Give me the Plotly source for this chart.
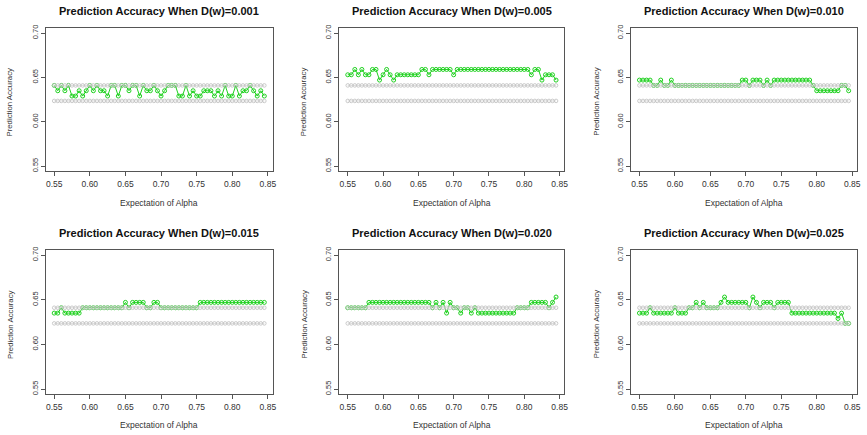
import plotly.graph_objects as go

# Expectation of Alpha (x values)
alpha = [0.550, 0.555, 0.560, 0.565, 0.570, 0.575, 0.580, 0.585, 0.590, 0.595,
         0.600, 0.605, 0.610, 0.615, 0.620, 0.625, 0.630, 0.635, 0.640, 0.645,
         0.650, 0.655, 0.660, 0.665, 0.670, 0.675, 0.680, 0.685, 0.690, 0.695,
         0.700, 0.705, 0.710, 0.715, 0.720, 0.725, 0.730, 0.735, 0.740, 0.745,
         0.750, 0.755, 0.760, 0.765, 0.770, 0.775, 0.780, 0.785, 0.790, 0.795,
         0.800, 0.805, 0.810, 0.815, 0.820, 0.825, 0.830, 0.835, 0.840, 0.845]

# Reference (grey) accuracy lines
ref_high = [0.641, 0.641, 0.641, 0.641, 0.641, 0.641, 0.641, 0.641, 0.641, 0.641,
            0.641, 0.641, 0.641, 0.641, 0.641, 0.641, 0.641, 0.641, 0.641, 0.641,
            0.641, 0.641, 0.641, 0.641, 0.641, 0.641, 0.641, 0.641, 0.641, 0.641,
            0.641, 0.641, 0.641, 0.641, 0.641, 0.641, 0.641, 0.641, 0.641, 0.641,
            0.641, 0.641, 0.641, 0.641, 0.641, 0.641, 0.641, 0.641, 0.641, 0.641,
            0.641, 0.641, 0.641, 0.641, 0.641, 0.641, 0.641, 0.641, 0.641, 0.641]
ref_low = [0.6235, 0.6235, 0.6235, 0.6235, 0.6235, 0.6235, 0.6235, 0.6235, 0.6235, 0.6235,
           0.6235, 0.6235, 0.6235, 0.6235, 0.6235, 0.6235, 0.6235, 0.6235, 0.6235, 0.6235,
           0.6235, 0.6235, 0.6235, 0.6235, 0.6235, 0.6235, 0.6235, 0.6235, 0.6235, 0.6235,
           0.6235, 0.6235, 0.6235, 0.6235, 0.6235, 0.6235, 0.6235, 0.6235, 0.6235, 0.6235,
           0.6235, 0.6235, 0.6235, 0.6235, 0.6235, 0.6235, 0.6235, 0.6235, 0.6235, 0.6235,
           0.6235, 0.6235, 0.6235, 0.6235, 0.6235, 0.6235, 0.6235, 0.6235, 0.6235, 0.6235]

acc_001 = [0.641, 0.635, 0.641, 0.635, 0.641, 0.629, 0.629, 0.635, 0.629, 0.635,
           0.641, 0.635, 0.641, 0.635, 0.635, 0.629, 0.641, 0.641, 0.629, 0.641,
           0.641, 0.635, 0.641, 0.641, 0.629, 0.641, 0.635, 0.635, 0.641, 0.635,
           0.629, 0.635, 0.641, 0.641, 0.641, 0.629, 0.629, 0.641, 0.629, 0.635,
           0.629, 0.629, 0.635, 0.635, 0.635, 0.629, 0.635, 0.629, 0.641, 0.629,
           0.629, 0.641, 0.629, 0.635, 0.635, 0.641, 0.635, 0.629, 0.635, 0.629]
acc_005 = [0.653, 0.653, 0.659, 0.653, 0.659, 0.653, 0.653, 0.659, 0.659, 0.647,
           0.653, 0.659, 0.653, 0.647, 0.653, 0.653, 0.653, 0.653, 0.653, 0.653,
           0.653, 0.659, 0.659, 0.653, 0.659, 0.659, 0.659, 0.659, 0.659, 0.659,
           0.653, 0.659, 0.659, 0.659, 0.659, 0.659, 0.659, 0.659, 0.659, 0.659,
           0.659, 0.659, 0.659, 0.659, 0.659, 0.659, 0.659, 0.659, 0.659, 0.659,
           0.659, 0.659, 0.653, 0.659, 0.659, 0.647, 0.653, 0.653, 0.653, 0.647]
acc_010 = [0.647, 0.647, 0.647, 0.647, 0.641, 0.641, 0.647, 0.641, 0.641, 0.647,
           0.641, 0.641, 0.641, 0.641, 0.641, 0.641, 0.641, 0.641, 0.641, 0.641,
           0.641, 0.641, 0.641, 0.641, 0.641, 0.641, 0.641, 0.641, 0.641, 0.647,
           0.647, 0.641, 0.647, 0.647, 0.647, 0.641, 0.647, 0.641, 0.647, 0.647,
           0.647, 0.647, 0.647, 0.647, 0.647, 0.647, 0.647, 0.647, 0.647, 0.641,
           0.635, 0.635, 0.635, 0.635, 0.635, 0.635, 0.635, 0.641, 0.641, 0.635]
acc_015 = [0.635, 0.635, 0.641, 0.635, 0.635, 0.635, 0.635, 0.635, 0.641, 0.641,
           0.641, 0.641, 0.641, 0.641, 0.641, 0.641, 0.641, 0.641, 0.641, 0.641,
           0.647, 0.641, 0.647, 0.647, 0.647, 0.647, 0.641, 0.641, 0.647, 0.647,
           0.641, 0.641, 0.641, 0.641, 0.641, 0.641, 0.641, 0.641, 0.641, 0.641,
           0.641, 0.647, 0.647, 0.647, 0.647, 0.647, 0.647, 0.647, 0.647, 0.647,
           0.647, 0.647, 0.647, 0.647, 0.647, 0.647, 0.647, 0.647, 0.647, 0.647]
acc_020 = [0.641, 0.641, 0.641, 0.641, 0.641, 0.641, 0.647, 0.647, 0.647, 0.647,
           0.647, 0.647, 0.647, 0.647, 0.647, 0.647, 0.647, 0.647, 0.647, 0.647,
           0.647, 0.647, 0.647, 0.647, 0.641, 0.647, 0.641, 0.647, 0.635, 0.647,
           0.641, 0.641, 0.635, 0.641, 0.641, 0.635, 0.641, 0.635, 0.635, 0.635,
           0.635, 0.635, 0.635, 0.635, 0.635, 0.635, 0.635, 0.635, 0.641, 0.641,
           0.641, 0.641, 0.647, 0.647, 0.647, 0.647, 0.647, 0.641, 0.647, 0.653]
acc_025 = [0.635, 0.635, 0.635, 0.641, 0.635, 0.635, 0.635, 0.635, 0.635, 0.635,
           0.641, 0.635, 0.635, 0.635, 0.641, 0.641, 0.647, 0.641, 0.647, 0.641,
           0.641, 0.641, 0.641, 0.647, 0.653, 0.647, 0.647, 0.647, 0.647, 0.647,
           0.647, 0.641, 0.653, 0.647, 0.641, 0.647, 0.647, 0.647, 0.641, 0.647,
           0.647, 0.647, 0.647, 0.635, 0.635, 0.635, 0.635, 0.635, 0.635, 0.635,
           0.635, 0.635, 0.635, 0.635, 0.635, 0.635, 0.629, 0.635, 0.6235, 0.6235]

panel_titles = ["Prediction Accuracy When D(w)=0.001",
                "Prediction Accuracy When D(w)=0.005",
                "Prediction Accuracy When D(w)=0.010",
                "Prediction Accuracy When D(w)=0.015",
                "Prediction Accuracy When D(w)=0.020",
                "Prediction Accuracy When D(w)=0.025"]
series = [acc_001, acc_005, acc_010, acc_015, acc_020, acc_025]

x_ticks = [0.55, 0.60, 0.65, 0.70, 0.75, 0.80, 0.85]
x_ticklabels = ["0.55", "0.60", "0.65", "0.70", "0.75", "0.80", "0.85"]
y_ticks = [0.55, 0.60, 0.65, 0.70]
y_ticklabels = ["0.55", "0.60", "0.65", "0.70"]

W, H = 867, 435
# plot frames in pixels: (left, right, top, bottom)
frames = [(46, 274, 25, 170), (341, 567, 25, 170), (634, 861, 25, 170),
          (46, 274, 249, 395), (341, 567, 249, 395), (634, 861, 249, 395)]
ytitle_x = [10, 305, 599]

GREEN = "#1fd11f"
GREY = "#c4c4c4"
FONT = "Liberation Sans, Arial, sans-serif"

fig = go.Figure()
layout = dict(
    width=W, height=H, margin=dict(l=0, r=0, t=0, b=0),
    paper_bgcolor="white", plot_bgcolor="white", showlegend=False,
    font=dict(family=FONT, color="#333333"),
)
annotations = []
for k, (ys, title) in enumerate(zip(series, panel_titles)):
    n = k + 1
    xa = "x" if n == 1 else f"x{n}"
    ya = "y" if n == 1 else f"y{n}"
    l, r, t, b = frames[k]
    fig.add_trace(go.Scatter(x=alpha, y=ys, mode="lines+markers", xaxis=xa, yaxis=ya,
                             line=dict(color=GREEN, width=1),
                             marker=dict(symbol="circle-open", size=4, color=GREEN,
                                         line=dict(width=1, color=GREEN))))
    for ref in (ref_high, ref_low):
        fig.add_trace(go.Scatter(x=alpha, y=ref, mode="lines+markers", xaxis=xa, yaxis=ya,
                                 line=dict(color=GREY, width=0.6),
                                 marker=dict(symbol="circle-open", size=3.6, color=GREY,
                                             line=dict(width=0.9, color=GREY))))
    axcommon = dict(showgrid=False, zeroline=False, showline=True, mirror=True,
                    linecolor="#555555", linewidth=1, ticks="outside", ticklen=4,
                    tickcolor="#555555", tickfont=dict(size=8.5, family=FONT, color="#333333"))
    layout["xaxis" if n == 1 else f"xaxis{n}"] = dict(
        axcommon, domain=[l / W, r / W], range=[0.5382, 0.8568],
        tickvals=x_ticks, ticktext=x_ticklabels, anchor=ya)
    layout["yaxis" if n == 1 else f"yaxis{n}"] = dict(
        axcommon, domain=[1 - b / H, 1 - t / H], range=[0.544, 0.706],
        tickvals=y_ticks, ticktext=y_ticklabels, tickangle=-90, anchor=xa,
        tickfont=dict(size=7.5, family=FONT, color="#333333"))
    cx = (l + r) / 2 / W
    row_top = t == 25
    annotations.append(dict(text=f"<b>{title}</b>", x=cx, y=1 - ((8.5 if row_top else 232) / H),
                            xref="paper", yref="paper", showarrow=False,
                            xanchor="center", yanchor="middle",
                            font=dict(size=11, family=FONT, color="#111111")))
    annotations.append(dict(text="Expectation of Alpha", x=cx, y=1 - ((202 if row_top else 426) / H),
                            xref="paper", yref="paper", showarrow=False,
                            xanchor="center", yanchor="middle",
                            font=dict(size=8.5, family=FONT, color="#333333")))
    annotations.append(dict(text="Prediction Accuracy", x=ytitle_x[k % 3] / W,
                            y=1 - ((t + b) / 2 + 2) / H,
                            xref="paper", yref="paper", showarrow=False, textangle=-90,
                            xanchor="center", yanchor="middle",
                            font=dict(size=7.8, family=FONT, color="#333333")))

layout["annotations"] = annotations
fig.update_layout(**layout)
fig.write_html("out.html", config={"displayModeBar": False},
               post_script="document.body.style.margin='0';document.body.style.overflow='hidden';")
